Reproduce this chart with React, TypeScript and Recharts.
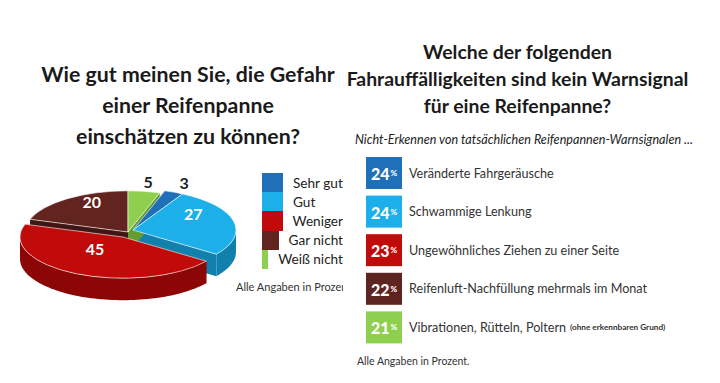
import React from "react";
import { PieChart, Pie, BarChart, Bar, XAxis, YAxis } from "recharts";

// left: self assessment (pie)
const ratingNames = ["Sehr gut", "Gut", "Weniger", "Gar nicht", "Weiß nicht"];
const ratingValues = [3, 27, 45, 20, 5];

// right: unrecognised warning signals
const signalNames = [
  "Veränderte Fahrgeräusche",
  "Schwammige Lenkung",
  "Ungewöhnliches Ziehen zu einer Seite",
  "Reifenluft-Nachfüllung mehrmals im Monat",
  "Vibrationen, Rütteln, Poltern",
];
const signalNotes = ["", "", "", "", "(ohne erkennbaren Grund)"];
const signalValues = [24, 24, 23, 22, 21];

const ratingColors = ["#1f6fb9", "#1cafe9", "#c10a0a", "#62241f", "#8ecf4f"];
const ratingSides = ["#155089", "#1280ad", "#8c0606", "#3f1613", "#629c33"];
const signalColors = ["#1f6fb9", "#1cafe9", "#c10a0a", "#5e2420", "#8ecf4f"];
const explode: Record<string, [number, number]> = {
  "Sehr gut": [5, -2],
  Gut: [5, -2],
  Weniger: [-5, 5],
};

const FONT = "Lato, 'Open Sans', sans-serif";
const TILT = 0.4;
const DEPTH = 22;
const RAD = Math.PI / 180;

const pieData = ratingNames.map((name, i) => ({
  name, value: ratingValues[i], fill: ratingColors[i], side: ratingSides[i],
}));
const signalData = signalNames.map((name, i) => ({
  name, note: signalNotes[i], value: signalValues[i], color: signalColors[i],
}));

const ell = (cx: number, cy: number, rx: number, a: number) =>
  [cx + rx * Math.cos(a * RAD), cy - rx * TILT * Math.sin(a * RAD)];

function geo(p: any) {
  const name = p.payload?.name ?? p.name;
  const [dx, dy] = explode[name] ?? [0, 0];
  return {
    ox: p.cx + dx, oy: p.cy + dy, rx: p.outerRadius,
    a0: Math.max(p.startAngle, p.endAngle), a1: Math.min(p.startAngle, p.endAngle),
    fill: p.payload?.fill ?? p.fill, side: p.payload?.side ?? p.side,
  };
}

const CutFaces = (p: any) => {
  const g = geo(p);
  return (
    <g>
      {[g.a0, g.a1].map((a) => {
        const [x, y] = ell(g.ox, g.oy, g.rx, a);
        return <polygon key={a} fill={g.side}
          points={`${g.ox},${g.oy} ${x},${y} ${x},${y + DEPTH} ${g.ox},${g.oy + DEPTH}`} />;
      })}
    </g>
  );
};

const RimWall = (p: any) => {
  const g = geo(p);
  const hi = Math.min(g.a0, 0);
  const lo = Math.max(g.a1, -180);
  if (hi <= lo) return <g />;
  const top: number[][] = [];
  for (let a = hi; a > lo; a -= 2) top.push(ell(g.ox, g.oy, g.rx, a));
  top.push(ell(g.ox, g.oy, g.rx, lo));
  const bottom = top.map(([x, y]) => [x, y + DEPTH]).reverse();
  return <polygon fill={g.side} points={[...top, ...bottom].map((q) => q.join(",")).join(" ")} />;
};

const TopFace = (p: any) => {
  const g = geo(p);
  const [x0, y0] = ell(g.ox, g.oy, g.rx, g.a0);
  const [x1, y1] = ell(g.ox, g.oy, g.rx, g.a1);
  const large = g.a0 - g.a1 > 180 ? 1 : 0;
  return (
    <path fill={g.fill} stroke="#ffffff" strokeWidth={0.6}
      d={`M${g.ox},${g.oy}L${x0},${y0}A${g.rx},${g.rx * TILT} 0 ${large} 1 ${x1},${y1}Z`} />
  );
};

const sliceLabel = (p: any) => {
  const [dx, dy] = explode[p.name] ?? [0, 0];
  const out = p.value < 10;
  const [x, y] = ell(p.cx + dx, p.cy + dy, p.outerRadius * (out ? 1.25 : 0.6), p.midAngle);
  return (
    <text x={x} y={out ? y : y - 11} textAnchor="middle" dominantBaseline="central"
      fill={out ? "#222222" : "#ffffff"} fontSize={16} fontWeight={700} fontFamily={FONT}>
      {p.value}
    </text>
  );
};

const SignalRow = (p: any) => {
  const { x, y, height, payload } = p;
  const mid = y + height / 2;
  return (
    <g fontFamily={FONT}>
      <rect x={x} y={y} width={36} height={height} fill={payload.color} />
      <text x={x + 18} y={mid} textAnchor="middle" dominantBaseline="central" fill="#ffffff" fontWeight={900}>
        <tspan fontSize={16}>{payload.value}</tspan>
        <tspan fontSize={8} dx={1}>%</tspan>
      </text>
      <text x={x + 43} y={mid} dominantBaseline="central" fill="#333333" fontSize={12.6}>
        {payload.name}
        {payload.note ? <tspan fontSize={8.2} fontWeight={700} dx={4}>{payload.note}</tspan> : null}
      </text>
    </g>
  );
};

export default function App() {
  return (
    <div style={{ position: "fixed", left: 0, top: 0, width: 720, height: 383, background: "#ffffff", overflow: "hidden", fontFamily: FONT, color: "#1a1a1a" }}>
      <div style={{ position: "absolute", left: 18, width: 340, top: 59, textAlign: "center", fontSize: 21.3, fontWeight: 700, lineHeight: "31px" }}>
        Wie gut meinen Sie, die Gefahr<br />einer Reifenpanne<br />einschätzen zu können?
      </div>

      <div style={{ position: "absolute", left: 0, top: 150 }}>
        <PieChart width={250} height={160}>
          <Pie data={pieData} dataKey="value" nameKey="name" cx={123} cy={77} outerRadius={103}
            startAngle={72} endAngle={-288} shape={CutFaces} isAnimationActive={false} />
          <Pie data={pieData} dataKey="value" nameKey="name" cx={123} cy={77} outerRadius={103}
            startAngle={72} endAngle={-288} shape={RimWall} isAnimationActive={false} />
          <Pie data={pieData} dataKey="value" nameKey="name" cx={123} cy={77} outerRadius={103}
            startAngle={72} endAngle={-288} shape={TopFace} label={sliceLabel} labelLine={false}
            isAnimationActive={false} />
        </PieChart>
      </div>

      <div style={{ position: "absolute", left: 236, top: 173, width: 107, overflow: "hidden", whiteSpace: "nowrap" }}>
        {pieData.map((d) => (
          <div key={d.name} style={{ display: "flex", alignItems: "center", height: 19.2 }}>
            <div style={{ marginLeft: 26, width: 21, height: 19.2, background: d.fill }} />
            <span style={{ marginLeft: 10, fontSize: 13.6, color: "#222" }}>{d.name}</span>
          </div>
        ))}
        <div style={{ marginTop: 11, fontSize: 11, color: "#333" }}>Alle Angaben in Prozent</div>
      </div>

      <div style={{ position: "absolute", left: 345, width: 345, top: 38, textAlign: "center", fontSize: 19.4, fontWeight: 700, lineHeight: "27px" }}>
        Welche der folgenden<br />Fahrauffälligkeiten sind kein Warnsignal<br />für eine Reifenpanne?
      </div>
      <div style={{ position: "absolute", left: 355, top: 132, fontSize: 12.6, fontStyle: "italic", color: "#222" }}>
        Nicht-Erkennen von tatsächlichen Reifenpannen-Warnsignalen ...
      </div>

      <div style={{ position: "absolute", left: 366, top: 154 }}>
        <BarChart layout="vertical" width={350} height={193} data={signalData} barSize={32}
          margin={{ top: 0, right: 0, bottom: 0, left: 0 }}>
          <XAxis type="number" hide domain={[0, 30]} />
          <YAxis type="category" dataKey="name" hide />
          <Bar dataKey="value" shape={SignalRow} isAnimationActive={false} />
        </BarChart>
      </div>
      <div style={{ position: "absolute", left: 357, top: 355, fontSize: 10.5, color: "#333" }}>
        Alle Angaben in Prozent.
      </div>
    </div>
  );
}
